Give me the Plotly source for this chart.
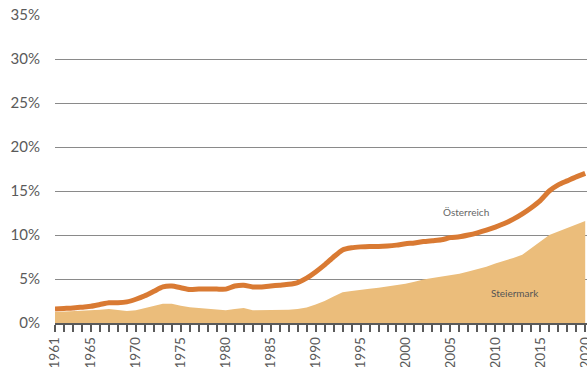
import plotly.graph_objects as go

years = list(range(1961, 2021))

# share in percent
oesterreich = [1.6, 1.65, 1.7, 1.8, 1.9, 2.1, 2.3, 2.3, 2.4, 2.7,
               3.1, 3.6, 4.1, 4.2, 4.0, 3.8, 3.85, 3.85, 3.85, 3.85,
               4.2, 4.3, 4.1, 4.1, 4.2, 4.3, 4.4, 4.6, 5.1, 5.8,
               6.6, 7.5, 8.3, 8.55, 8.65, 8.7, 8.7, 8.75, 8.85, 9.0,
               9.1, 9.25, 9.35, 9.45, 9.7, 9.8, 10.0, 10.25, 10.55, 10.9,
               11.3, 11.8, 12.4, 13.1, 13.9, 15.0, 15.7, 16.15, 16.6, 17.0]

steiermark = [1.25, 1.3, 1.35, 1.35, 1.4, 1.5, 1.6, 1.5, 1.35, 1.45,
              1.7, 1.9, 2.2, 2.2, 1.95, 1.8, 1.7, 1.65, 1.55, 1.45,
              1.6, 1.7, 1.45, 1.45, 1.45, 1.5, 1.5, 1.6, 1.75, 2.1,
              2.5, 3.0, 3.5, 3.65, 3.8, 3.9, 4.0, 4.15, 4.3, 4.45,
              4.7, 4.95, 5.1, 5.25, 5.4, 5.6, 5.85, 6.1, 6.4, 6.75,
              7.05, 7.4, 7.75, 8.5, 9.3, 10.0, 10.4, 10.8, 11.2, 11.6]

label_years = [1961, 1965, 1970, 1975, 1980, 1985, 1990, 1995, 2000,
               2005, 2010, 2015, 2020]
y_ticks = [0, 5, 10, 15, 20, 25, 30, 35]

grey = '#5a5a5a'

fig = go.Figure()
fig.add_trace(go.Scatter(
    x=years, y=steiermark, mode='lines', fill='tozeroy',
    line=dict(width=0, color='#EBBD7B'), fillcolor='#EBBD7B',
    name='Steiermark', hoverinfo='x+y'
))
fig.add_trace(go.Scatter(
    x=years, y=oesterreich, mode='lines',
    line=dict(width=5, color='#D97A33', shape='spline', smoothing=0.6),
    name='Österreich', hoverinfo='x+y'
))

fig.add_annotation(x=2006.7, y=12.6, text='Österreich', showarrow=False,
                   font=dict(size=10, color='#666666', family='Lato'))
fig.add_annotation(x=2012.2, y=3.4, text='Steiermark', showarrow=False,
                   font=dict(size=10, color='#555555', family='Lato'))

fig.update_layout(
    width=587, height=367,
    margin=dict(l=55, r=0, t=15, b=44, autoexpand=False),
    paper_bgcolor='white', plot_bgcolor='white',
    showlegend=False,
    font=dict(family='Lato', color=grey, size=14),
    xaxis=dict(
        range=[1961, 2020.2],
        tickvals=label_years,
        ticktext=[str(y) for y in label_years],
        tickangle=-90,
        ticks='outside', ticklen=7, tickwidth=1.5, tickcolor=grey,
        minor=dict(ticks='outside', dtick=1, tick0=1961, ticklen=7,
                   tickwidth=1.5, tickcolor=grey, showgrid=False),
        showgrid=False, zeroline=False,
        showline=True, linecolor=grey, linewidth=1.5,
        tickfont=dict(size=13.5, color=grey),
        ticklabeloverflow='allow',
        automargin=False,
        fixedrange=True,
    ),
    yaxis=dict(
        range=[0, 35],
        tickvals=y_ticks,
        ticktext=[f'{v}%' for v in y_ticks],
        showgrid=True, gridcolor='#8a8a8a', gridwidth=1,
        zeroline=False, ticks='', ticklabelstandoff=14,
        tickfont=dict(size=15, color=grey),
        automargin=False,
        fixedrange=True,
    ),
)

# the page's default body margin would shift the figure by 8px
fig.write_html("out.html", config={'displayModeBar': False},
               post_script="document.body.style.margin='0';"
                           "document.body.style.overflow='hidden';")
